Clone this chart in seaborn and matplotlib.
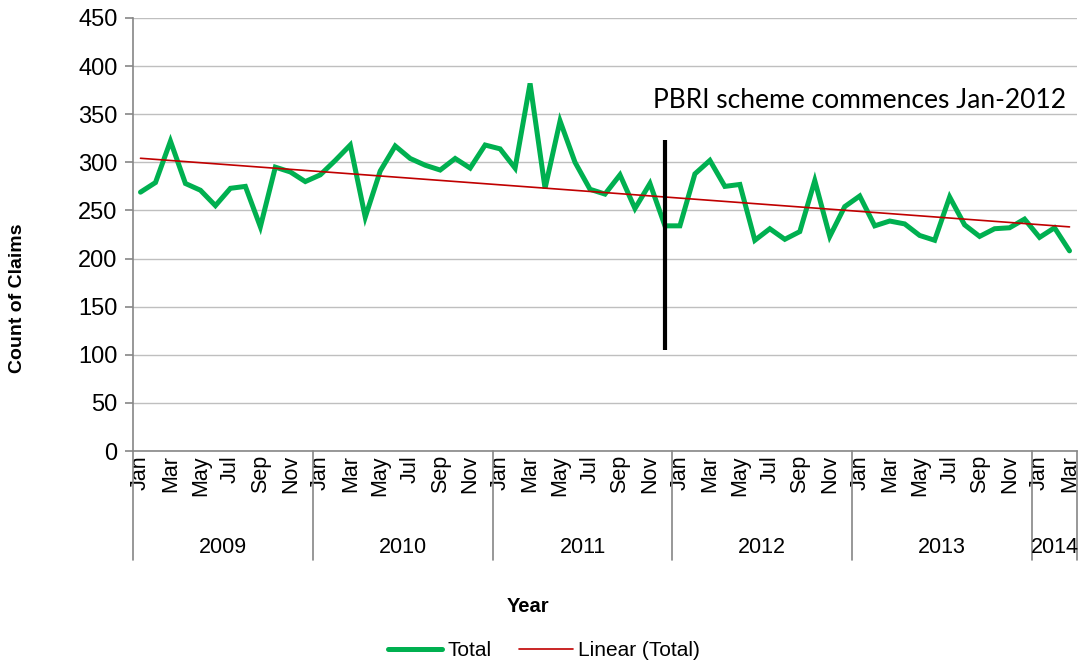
import numpy as np
import pandas as pd
import matplotlib
matplotlib.use("Agg")
import matplotlib.pyplot as plt
import matplotlib.transforms as mtransforms
from matplotlib.lines import Line2D
import seaborn as sns

# ---------------- data ----------------
years = ["2009", "2010", "2011", "2012", "2013", "2014"]
months = ["Jan", "Feb", "Mar", "Apr", "May", "Jun",
          "Jul", "Aug", "Sep", "Oct", "Nov", "Dec"]
months_per_year = [12, 12, 12, 12, 12, 3]
total_claims = [
    269, 279, 322, 278, 271, 255, 273, 275, 233, 295, 290, 280,   # 2009
    287, 302, 318, 243, 291, 317, 304, 297, 292, 304, 294, 318,   # 2010
    314, 294, 382, 273, 343, 300, 272, 267, 287, 252, 278, 234,   # 2011
    234, 288, 302, 275, 277, 219, 231, 220, 228, 281, 223, 254,   # 2012
    265, 234, 239, 236, 224, 219, 264, 235, 223, 231, 232, 241,   # 2013
    222, 232, 208,                                                # 2014
]
marker_month = 35            # Dec-2011 (index) where the scheme line is drawn
marker_range = [105, 323]
annotation = "PBRI scheme commences Jan-2012"

# ---------------- build frame ----------------
labels_year, labels_month = [], []
for y, n in zip(years, months_per_year):
    for m in months[:n]:
        labels_year.append(y)
        labels_month.append(m)
df = pd.DataFrame({
    "idx": np.arange(len(total_claims)),
    "Total": total_claims,
    "year": labels_year,
    "month": labels_month,
})
coef = np.polyfit(df["idx"], df["Total"], 1)
df["Linear (Total)"] = np.polyval(coef, df["idx"])

# ---------------- style ----------------
sns.set_theme(style="white")
plt.rcParams["font.family"] = ["Liberation Sans", "DejaVu Sans"]
plt.rcParams["text.color"] = "black"
plt.rcParams["xtick.labelcolor"] = "black"
plt.rcParams["ytick.labelcolor"] = "black"

GREEN = "#00B050"
RED = "#C00000"
GRID = "#bfbfbf"
AXC = "#868686"

fig = plt.figure(figsize=(10.82, 6.63), dpi=100)
ax = fig.add_axes([133 / 1082, 1 - 451 / 663, (1077 - 133) / 1082, (451 - 18) / 663])

sns.lineplot(data=df, x="idx", y="Total", ax=ax, color=GREEN, linewidth=3.6,
             solid_joinstyle="miter", zorder=3, legend=False)
sns.lineplot(data=df, x="idx", y="Linear (Total)", ax=ax, color=RED,
             linewidth=1.2, zorder=4, legend=False)

ax.plot([marker_month, marker_month], marker_range, color="black",
        linewidth=3.0, zorder=5, solid_capstyle="butt")
ax.text(61.8, 364, annotation, ha="right", va="center", fontsize=19,
        family=["Lato", "DejaVu Sans"], color="black")

# axes limits / grid
n = len(total_claims)
ax.set_xlim(-0.5, n - 0.5)
ax.set_ylim(0, 450)
ax.set_yticks(np.arange(0, 451, 50))
ax.yaxis.grid(True, color=GRID, linewidth=1.0)
ax.set_axisbelow(True)
for s in ["top", "right"]:
    ax.spines[s].set_visible(False)
for s in ["left", "bottom"]:
    ax.spines[s].set_color(AXC)
    ax.spines[s].set_linewidth(1.2)
ax.tick_params(axis="y", which="major", direction="out", length=6, width=1.2,
               color=AXC, labelsize=17, pad=5, left=True, labelcolor="black")

# month tick labels (odd months only)
tick_pos = [i for i, m in enumerate(labels_month) if months.index(m) % 2 == 0]
ax.set_xticks(tick_pos)
ax.set_xticklabels([labels_month[i] for i in tick_pos], rotation=90,
                   fontsize=15.5, va="top", ha="center")
ax.tick_params(axis="x", length=0, pad=3, labelcolor="black")
ax.set_xlabel("")
ax.set_ylabel("")

# year group labels & separators
trans = mtransforms.blended_transform_factory(ax.transData, ax.transAxes)
start = 0
bounds = [start - 0.5]
for y, cnt in zip(years, months_per_year):
    center = start + (cnt - 1) / 2
    ax.text(center, -0.224, y, transform=trans, ha="center", va="center",
            fontsize=15.5, color="black")
    start += cnt
    bounds.append(start - 0.5)
for b in bounds:
    ax.plot([b, b], [0, -0.252], transform=trans, color=AXC, linewidth=1.2,
            clip_on=False)

# axis titles
fig.text(18 / 1082, 1 - 298 / 663, "Count of Claims", rotation=90,
         ha="center", va="center", fontsize=14, fontweight="bold", color="black")
fig.text(528 / 1082, 1 - 606 / 663, "Year", ha="center", va="center",
         fontsize=14.5, fontweight="bold", color="black")

# legend
handles = [Line2D([], [], color=GREEN, linewidth=3.6),
           Line2D([], [], color=RED, linewidth=1.2)]
fig.legend(handles, ["Total", "Linear (Total)"], loc="center",
           bbox_to_anchor=(544 / 1082, 1 - 651 / 663), ncol=2, frameon=False,
           fontsize=15, handlelength=2.6, handletextpad=0.25, columnspacing=1.3,
           borderaxespad=0, labelcolor="black")

fig.savefig("out.png", dpi=100)
